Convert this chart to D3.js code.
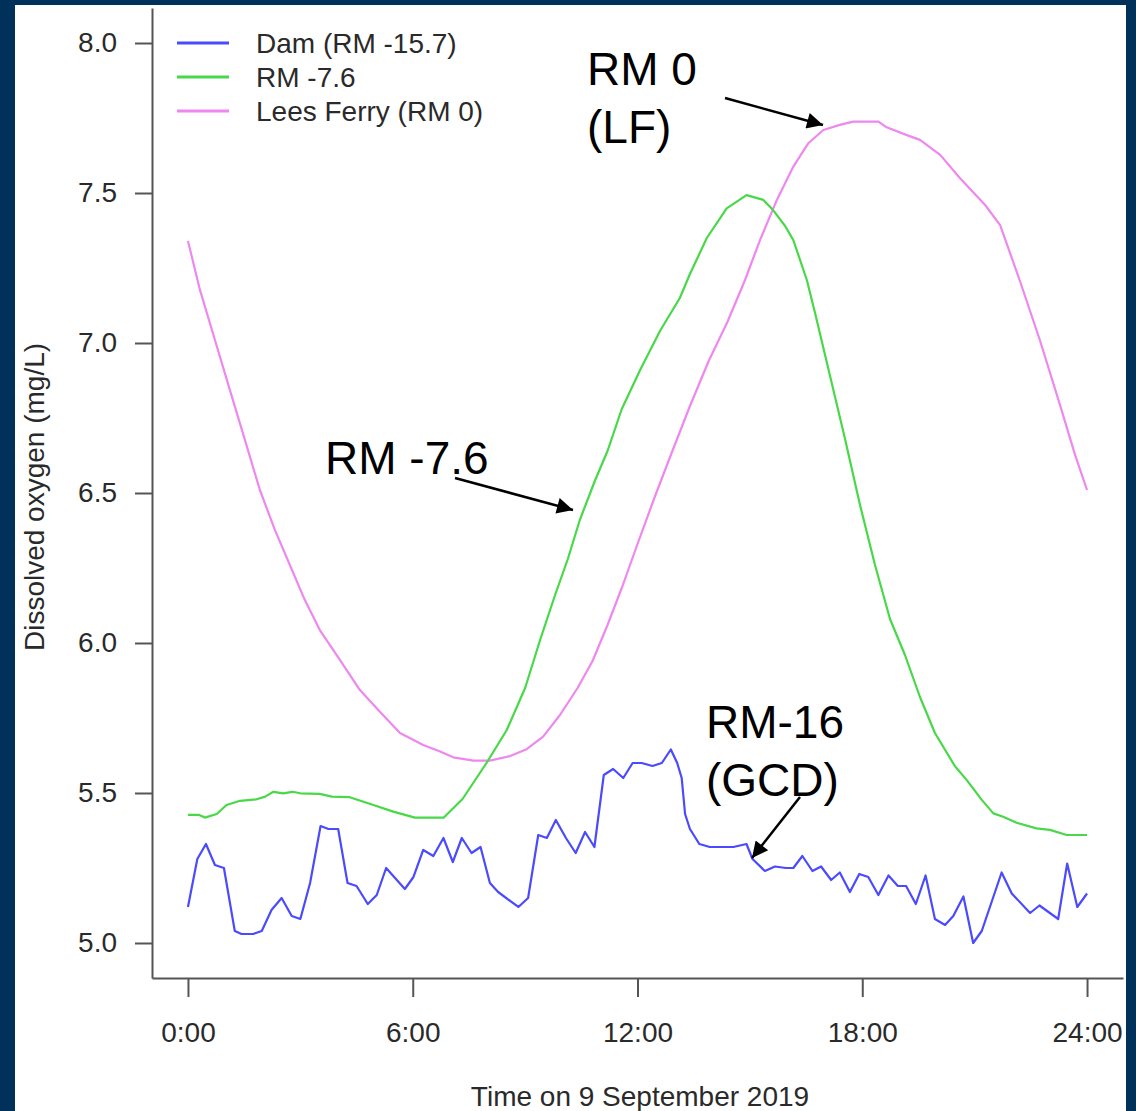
<!DOCTYPE html>
<html>
<head>
<meta charset="utf-8">
<script src="https://cdn.jsdelivr.net/npm/d3@7"></script>
<style>
  html, body { margin: 0; padding: 0; background: #00315a; }
  svg { display: block; }
</style>
</head>
<body>
<svg id="chart" width="1136" height="1111"></svg>
<script>
// ---------- data ----------
const damTime = [0.0,0.25,0.48,0.72,0.96,1.25,1.43,1.74,1.97,2.23,2.5,2.77,3.0,3.26,3.54,3.75,4.01,4.26,4.5,4.8,5.04,5.29,5.79,6.02,6.28,6.55,6.82,7.07,7.31,7.57,7.81,8.06,8.28,8.82,9.08,9.35,9.58,9.82,10.09,10.35,10.6,10.85,11.1,11.35,11.62,11.87,12.11,12.4,12.65,12.89,13.06,13.18,13.27,13.4,13.65,13.93,14.29,14.56,14.91,15.07,15.4,15.67,15.96,16.16,16.4,16.67,16.9,17.17,17.4,17.67,17.92,18.16,18.43,18.7,18.95,19.17,19.43,19.69,19.94,20.21,20.43,20.7,20.96,21.19,21.72,21.99,22.48,22.73,23.23,23.47,23.74,24.0];
const damDO = [5.12,5.28,5.33,5.26,5.25,5.04,5.03,5.03,5.04,5.11,5.15,5.09,5.08,5.20,5.39,5.38,5.38,5.20,5.19,5.13,5.16,5.25,5.18,5.22,5.31,5.29,5.35,5.27,5.35,5.30,5.32,5.20,5.17,5.12,5.15,5.36,5.35,5.41,5.35,5.30,5.37,5.32,5.56,5.58,5.55,5.60,5.60,5.59,5.60,5.645,5.60,5.55,5.43,5.38,5.33,5.32,5.32,5.32,5.33,5.28,5.24,5.255,5.25,5.25,5.29,5.24,5.255,5.21,5.235,5.17,5.23,5.22,5.16,5.225,5.19,5.19,5.13,5.225,5.08,5.06,5.09,5.155,5.00,5.04,5.235,5.165,5.10,5.125,5.08,5.265,5.12,5.165];

const rm76Time = [0.0,0.3,0.45,0.77,1.03,1.39,1.83,2.06,2.28,2.54,2.79,3.0,3.52,3.84,4.32,4.95,5.48,6.06,6.83,7.33,7.97,8.51,9.0,9.4,9.8,10.14,10.46,10.86,11.2,11.58,12.07,12.6,13.13,13.4,13.85,14.38,14.91,15.36,15.62,15.94,16.16,16.52,16.74,17.14,17.54,17.94,18.34,18.74,19.14,19.54,19.94,20.47,20.79,21.19,21.5,21.76,22.12,22.65,23.01,23.46,24.0];
const rm76DO = [5.427,5.427,5.418,5.43,5.46,5.474,5.479,5.488,5.504,5.499,5.504,5.499,5.497,5.488,5.486,5.46,5.438,5.418,5.418,5.48,5.60,5.71,5.85,6.01,6.16,6.28,6.41,6.54,6.64,6.78,6.91,7.04,7.15,7.23,7.35,7.449,7.493,7.477,7.443,7.39,7.343,7.21,7.10,6.89,6.68,6.46,6.26,6.08,5.96,5.82,5.70,5.59,5.543,5.477,5.432,5.421,5.401,5.382,5.377,5.36,5.36];

const lfTime = [0.0,0.32,0.72,1.12,1.52,1.92,2.32,2.72,3.12,3.52,4.06,4.59,5.13,5.66,6.28,6.73,7.08,7.62,8.06,8.6,9.04,9.48,9.93,10.4,10.8,11.2,11.6,12.0,12.47,12.9,13.4,13.9,14.4,14.87,15.27,15.72,16.16,16.56,16.96,17.4,17.76,18.43,18.65,19.19,19.54,20.08,20.61,21.28,21.68,22.2,22.74,23.28,23.68,24.0];
const lfDO = [7.34,7.177,7.01,6.843,6.677,6.51,6.377,6.26,6.143,6.043,5.943,5.843,5.77,5.70,5.66,5.638,5.619,5.608,5.608,5.623,5.646,5.688,5.76,5.85,5.94,6.06,6.19,6.33,6.49,6.63,6.79,6.94,7.07,7.21,7.343,7.477,7.588,7.666,7.71,7.727,7.738,7.738,7.719,7.693,7.677,7.627,7.549,7.46,7.393,7.21,7.01,6.793,6.627,6.51];

const seriesNames = ["Dam (RM -15.7)", "RM -7.6", "Lees Ferry (RM 0)"];
const seriesColors = ["#4a4aff", "#48d848", "#ee88ee"];
const xTicks = [0, 6, 12, 18, 24];
const xTickLabels = ["0:00", "6:00", "12:00", "18:00", "24:00"];
const yTicks = [5.0, 5.5, 6.0, 6.5, 7.0, 7.5, 8.0];
const xTitle = "Time on 9 September 2019";
const yTitle = "Dissolved oxygen (mg/L)";
const annotations = [
  { lines: ["RM 0", "(LF)"], x: 587, y: 85, from: [725, 98], to: [823, 125] },
  { lines: ["RM -7.6"], x: 325, y: 474, from: [455, 478], to: [573, 510] },
  { lines: ["RM-16", "(GCD)"], x: 706, y: 738, from: [800, 797], to: [752, 858] }
];

// ---------- drawing ----------
const svg = d3.select("#chart");
const FONT = "Liberation Sans, Arial, Helvetica, sans-serif";

// white panel
svg.append("rect").attr("x", 15).attr("y", 5).attr("width", 1111).attr("height", 1106).attr("fill", "#ffffff");

const x = d3.scaleLinear().domain([-0.96, 24.96]).range([152, 1123]);
const y = d3.scaleLinear().domain([4.8833, 8.1167]).range([978, 8]);

const axisColor = "#555555";
const textColor = "#2a2a2a";

const gy = svg.append("g").attr("transform", "translate(152,0)")
  .call(d3.axisLeft(y).tickValues(yTicks).tickFormat(d3.format(".1f")).tickSize(17).tickSizeOuter(0).tickPadding(18));
const gx = svg.append("g").attr("transform", "translate(0,978)")
  .call(d3.axisBottom(x).tickValues(xTicks).tickFormat((d, i) => xTickLabels[i]).tickSize(19).tickSizeOuter(0).tickPadding(25));

[gy, gx].forEach(g => {
  g.select(".domain").attr("stroke", axisColor).attr("stroke-width", 2);
  g.selectAll(".tick line").attr("stroke", axisColor).attr("stroke-width", 2);
  g.selectAll(".tick text").attr("fill", textColor).style("font-family", FONT).style("font-size", "28px");
});

// axis titles
svg.append("text").attr("x", 640).attr("y", 1106).attr("text-anchor", "middle")
  .attr("fill", textColor).style("font-family", FONT).style("font-size", "28px").text(xTitle);
svg.append("text").attr("transform", "translate(44,497) rotate(-90)").attr("text-anchor", "middle")
  .attr("fill", textColor).style("font-family", FONT).style("font-size", "28px").text(yTitle);

// lines
const line = d3.line().x(d => x(d[0])).y(d => y(d[1]));
const series = [
  d3.zip(damTime, damDO),
  d3.zip(rm76Time, rm76DO),
  d3.zip(lfTime, lfDO)
];
// draw pink first, then green, then blue
[2, 1, 0].forEach(i => {
  svg.append("path").datum(series[i]).attr("d", line)
    .attr("fill", "none").attr("stroke", seriesColors[i]).attr("stroke-width", 2.2)
    .attr("stroke-linejoin", "round");
});

// legend
const leg = svg.append("g");
seriesNames.forEach((name, i) => {
  const ly = 43 + i * 34;
  leg.append("line").attr("x1", 177).attr("x2", 229).attr("y1", ly).attr("y2", ly)
    .attr("stroke", seriesColors[i]).attr("stroke-width", 3);
  leg.append("text").attr("x", 256).attr("y", ly + 10).attr("fill", textColor)
    .style("font-family", FONT).style("font-size", "28px").text(name);
});

// annotations
svg.append("defs").append("marker").attr("id", "arrow")
  .attr("viewBox", "0 0 10 10").attr("refX", 10).attr("refY", 5)
  .attr("markerWidth", 20).attr("markerHeight", 16).attr("markerUnits", "userSpaceOnUse")
  .attr("orient", "auto")
  .append("path").attr("d", "M0,0 L10,5 L0,10 z").attr("fill", "#000");

annotations.forEach(a => {
  a.lines.forEach((t, j) => {
    svg.append("text").attr("x", a.x).attr("y", a.y + j * 58).attr("fill", "#000")
      .style("font-family", FONT).style("font-size", "46px").text(t);
  });
  svg.append("line").attr("x1", a.from[0]).attr("y1", a.from[1]).attr("x2", a.to[0]).attr("y2", a.to[1])
    .attr("stroke", "#000").attr("stroke-width", 2.5).attr("marker-end", "url(#arrow)");
});
</script>
</body>
</html>
